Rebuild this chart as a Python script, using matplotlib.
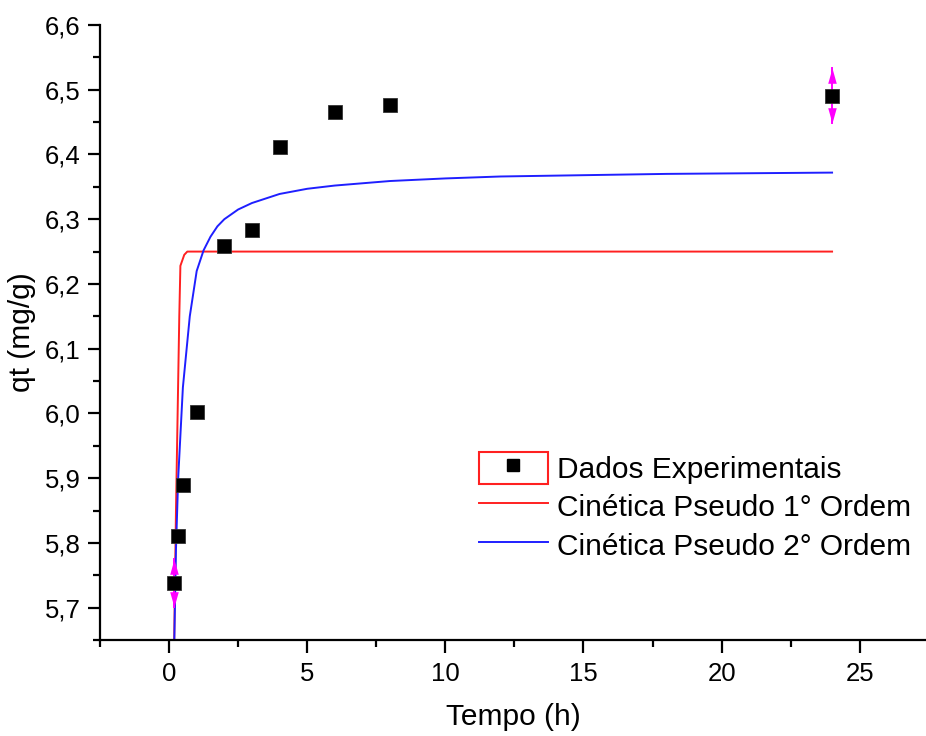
import matplotlib
matplotlib.use("Agg")
import matplotlib.pyplot as plt
from matplotlib.lines import Line2D
from matplotlib.patches import Rectangle
from matplotlib.legend_handler import HandlerTuple
from matplotlib.path import Path

plt.rcParams['font.family'] = ['Liberation Sans', 'DejaVu Sans']

# Experimental adsorption data
tempo_exp = [0.17, 0.33, 0.5, 1.0, 2.0, 3.0, 4.0, 6.0, 8.0, 24.0]
qt_exp = [5.738, 5.810, 5.889, 6.002, 6.258, 6.284, 6.412, 6.465, 6.477, 6.491]

# Standard deviations (only measured for first and last points)
tempo_err = [0.17, 24.0]
qt_err_centro = [5.738, 6.491]
qt_err = [0.037, 0.042]

# Pseudo first-order fitted curve
tempo_pfo = [0.17, 0.25, 0.33, 0.37, 0.41, 0.55, 0.66, 24.0]
qt_pfo = [5.60, 5.85, 6.05, 6.15, 6.228, 6.245, 6.25, 6.25]

# Pseudo second-order fitted curve
tempo_pso = [0.19, 0.25, 0.33, 0.5, 0.75, 1.0, 1.25, 1.5, 1.75, 2.0, 2.5, 3.0,
             4.0, 5.0, 6.0, 8.0, 10.0, 12.0, 15.0, 18.0, 21.0, 24.0]
qt_pso = [5.65, 5.79, 5.90, 6.04, 6.15, 6.22, 6.252, 6.273, 6.289, 6.300, 6.315, 6.325,
          6.339, 6.347, 6.352, 6.359, 6.363, 6.366, 6.368, 6.370, 6.371, 6.372]

rotulos = ["Dados Experimentais", "Cinética Pseudo 1° Ordem", "Cinética Pseudo 2° Ordem"]

fig = plt.figure(figsize=(9.26, 7.36), dpi=100)
ax = fig.add_axes([100 / 926, 96 / 736, 826 / 926, 615 / 736])

ax.plot(tempo_pfo, qt_pfo, color='#ff2020', lw=1.4, zorder=2)
ax.plot(tempo_pso, qt_pso, color='#1f1fff', lw=1.4, zorder=2)

# Error bars with arrow-shaped ends
seta_cima = Path([(0, 0), (0.28, -1), (-0.28, -1), (0, 0)],
                 [Path.MOVETO, Path.LINETO, Path.LINETO, Path.CLOSEPOLY])
seta_baixo = Path([(0, 0), (0.28, 1), (-0.28, 1), (0, 0)],
                  [Path.MOVETO, Path.LINETO, Path.LINETO, Path.CLOSEPOLY])
for t, q, e in zip(tempo_err, qt_err_centro, qt_err):
    ax.plot([t, t], [q - e, q + e], color='#ff00ff', lw=1.4, zorder=3)
    ax.plot([t], [q + e], marker=seta_cima, ms=22, color='#ff00ff', mew=0, zorder=3)
    ax.plot([t], [q - e], marker=seta_baixo, ms=22, color='#ff00ff', mew=0, zorder=3)

ax.plot(tempo_exp, qt_exp, linestyle='none', marker='s', ms=10,
        mfc='black', mec='#333333', mew=0.6, zorder=4)

ax.set_xlim(-2.5, 27.4)
ax.set_ylim(5.65, 6.6)
ax.set_xticks([0, 5, 10, 15, 20, 25])
ax.set_xticks([-2.5, 2.5, 7.5, 12.5, 17.5, 22.5], minor=True)
yt = [5.7, 5.8, 5.9, 6.0, 6.1, 6.2, 6.3, 6.4, 6.5, 6.6]
ax.set_yticks(yt)
ax.set_yticklabels([f"{v:.1f}".replace('.', ',') for v in yt])
ax.set_yticks([5.65, 5.75, 5.85, 5.95, 6.05, 6.15, 6.25, 6.35, 6.45, 6.55], minor=True)

for s in ['top', 'right']:
    ax.spines[s].set_visible(False)
for s in ['left', 'bottom']:
    ax.spines[s].set_linewidth(1.6)
ax.tick_params(which='major', direction='out', length=9, width=1.6,
               labelsize=18.5, pad=5)
ax.tick_params(which='minor', direction='out', length=5, width=1.6)
ax.tick_params(axis='x', which='major', pad=7)

ax.set_xlabel("Tempo (h)", fontsize=21.5, labelpad=12)
ax.set_ylabel("qt (mg/g)", fontsize=21.5, labelpad=6)

h_dados = (Rectangle((0, 0), 1, 1, facecolor='none', edgecolor='#ff2020', lw=1.5),
           Line2D([], [], linestyle='none', marker='s', ms=8, mfc='black', mec='black'))
h_pfo = Line2D([], [], color='#ff2020', lw=1.4)
h_pso = Line2D([], [], color='#1f1fff', lw=1.4)
ax.legend([h_dados, h_pfo, h_pso], rotulos,
          handler_map={tuple: HandlerTuple(ndivide=1)},
          loc='upper left', bbox_to_anchor=(479 / 926, (736 - 452) / 736),
          bbox_transform=fig.transFigure, frameon=False, fontsize=21.5,
          handlelength=2.3, handleheight=1.25, handletextpad=0.3,
          labelspacing=0.22, borderpad=0, borderaxespad=0)

fig.savefig("out.png", dpi=100)
